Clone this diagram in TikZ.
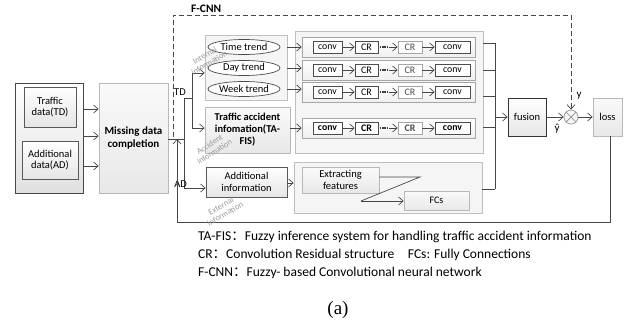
\documentclass[tikz,border=0pt]{standalone}
\usepackage{fontspec}
\setmainfont{Carlito}
\newfontfamily\cjk{Noto Sans CJK SC}
\newfontfamily\timesf{Liberation Serif}
\usetikzlibrary{arrows.meta,shapes.geometric,calc}
\begin{document}
\begin{tikzpicture}[x=1pt,y=-1pt,
  font=\fontsize{10.5}{11.5}\selectfont,
  >={Straight Barb[length=4.5pt,width=8pt]},
  conn/.style={draw=black!72, line width=0.7pt},
  arr/.style={conn,->},
  box/.style={draw=black!65, line width=0.7pt, top color=white, bottom color=black!10, align=center, inner sep=1pt},
  outerbox/.style={draw=black!72, line width=1pt, top color=white, bottom color=black!12},
  softbox/.style={draw=black!28, line width=0.7pt, top color=black!2, bottom color=black!9, align=center, inner sep=1pt},
  groupbox/.style={draw=black!25, line width=0.7pt, fill=black!4},
  rowbox/.style={draw=black!35, line width=0.6pt, top color=white, bottom color=black!6},
  cbox/.style={draw=black!70, line width=0.7pt, fill=white, inner sep=0pt},
  lcbox/.style={draw=black!35, line width=0.7pt, fill=white, inner sep=0pt, text=black!70},
  trend/.style={ellipse, draw=black!70, line width=0.7pt, fill=white, inner sep=0pt, minimum width=72pt, minimum height=15pt},
  wm/.style={text=black!40, font=\fontsize{8.3}{8.8}\selectfont, align=center}
]
\useasboundingbox (0,0) rectangle (627,324);

% left input block
\node[outerbox, minimum width=68pt, minimum height=110pt] (outer) at (49,138) {};
\node[box, minimum width=52pt, minimum height=40pt] (td) at (50,107) {Traffic\\data(TD)};
\node[box, minimum width=56pt, minimum height=38pt] (ad) at (50,160) {Additional\\data(AD)};

% missing data completion
\node[softbox, minimum width=69pt, minimum height=110pt, font=\fontsize{11}{13}\selectfont\bfseries] (miss) at (133.5,138) {Missing data\\completion};
\foreach \yy in {109,136,166} \draw[arr] (outer.east |- 0,\yy) -- (miss.west |- 0,\yy);

% dashed F-CNN frame
\coordinate (dA) at (173,137);
\coordinate (dB) at (173,15);
\coordinate (dC) at (571,15);
\node[font=\fontsize{11.5}{12}\selectfont\bfseries, anchor=west, inner sep=0pt] (fcnn) at (191,9) {F-CNN};

% internal information group
\node[groupbox, minimum width=82pt, minimum height=65pt] (tg) at (246,67.5) {};
\node[trend] (e1) at (244,47) {Time trend};
\node[trend] (e2) at (244,68) {Day trend};
\node[trend] (e3) at (244,89) {Week trend};

\node[softbox, minimum width=85pt, minimum height=46pt, font=\fontsize{10.5}{12}\selectfont\bfseries] (ta) at (247.5,130) {Traffic accident\\infomation(TA-\\FIS)};
\node[box, minimum width=81pt, minimum height=30pt, font=\fontsize{10.5}{12}\selectfont] (ai) at (246.5,182) {Additional\\information};

% conv group
\node[groupbox, minimum width=188pt, minimum height=122pt] (big) at (389,92) {};
\foreach \i/\y/\f in {1/47/\mdseries,2/70/\mdseries,3/92/\mdseries,4/128/\bfseries}{
  \node[rowbox, minimum width=173pt, minimum height=20pt] (row\i) at (388.5,\y) {};
  \node[cbox, minimum width=29pt, minimum height=12pt, font=\fontsize{9.8}{10}\selectfont\f] (ca\i) at (327.5,\y) {conv};
  \node[cbox, minimum width=23pt, minimum height=12pt, font=\fontsize{10}{10}\selectfont\f] (ra\i) at (366.5,\y) {CR};
  \node[lcbox, minimum width=24pt, minimum height=12pt, font=\fontsize{10}{10}\selectfont\f] (rb\i) at (410,\y) {CR};
  \node[cbox, minimum width=35pt, minimum height=12pt, font=\fontsize{9.8}{10}\selectfont\f] (cb\i) at (452.5,\y) {conv};
  \draw[arr] (ca\i) -- (ra\i);
  \draw[black!75, line width=1.4pt, dash pattern=on 1.4pt off 0.9pt] ($(ra\i.east)+(1.5,0)$) -- ++(8.5,0);
  \draw[arr] ($(ra\i.east)+(10.5,0)$) -- (rb\i);
  \draw[arr] (rb\i) -- (cb\i);
}

% external group
\node[groupbox, minimum width=188pt, minimum height=51pt] (bg) at (388,187.5) {};
\node[softbox, minimum width=77pt, minimum height=26pt, font=\fontsize{10.5}{11.5}\selectfont\mdseries] (ex) at (340.5,180) {Extracting\\features};
\node[softbox, minimum width=65pt, minimum height=19pt, font=\fontsize{10}{11}\selectfont\mdseries] (fc) at (436.5,200.5) {FCs};
\coordinate (z1) at (420,177);
\coordinate (z2) at (361,201);
\draw[conn] (ex.east |- z1) -- (z1) -- (z2);
\draw[arr] (z2) -- (fc.west |- z2);

% fusion, comparator, loss
\node[box, draw=black!80, minimum width=38pt, minimum height=38pt] (fus) at (527,117) {fusion};
\node[circle, draw=black!40, line width=0.7pt, fill=black!4, minimum size=14pt, inner sep=0pt] (cmp) at (571,117) {};
\draw[black!45, line width=0.7pt] (cmp.north west) -- (cmp.south east) (cmp.north east) -- (cmp.south west);
\node[softbox, minimum width=29pt, minimum height=38pt] (loss) at (607.5,117) {loss};
\node[inner sep=0pt, font=\fontsize{11}{12}\selectfont] (ylab) at (579,96) {y};
\node[inner sep=0pt, font=\fontsize{11}{12}\selectfont] (yhat) at (557,129) {ŷ};

% dashed frame
\draw[conn, dash pattern=on 5pt off 3pt] (dA) -- (dB) -- (dC);
\draw[arr, dash pattern=on 5pt off 3pt] (dC) -- (cmp.north);

% splitting lines
\coordinate (j0) at (184,139);
\coordinate (jT) at (184,98);
\coordinate (jT2) at (192,98);
\coordinate (jU) at (192,73);
\coordinate (jD) at (192,128);
\coordinate (jA) at (184,188);
\draw[conn] (miss.east |- j0) -- (j0);
\draw[conn] (jT) -- (jA);
\draw[conn] (jT) -- (jT2);
\draw[conn] (jU) -- (jD);
\draw[arr] (jU) -- (tg.west |- jU);
\draw[arr] (jD) -- (ta.west |- jD);
\draw[arr] (jA) -- (ai.west |- jA);
\node[anchor=east, inner sep=0pt] (tdl) at (186,92) {TD};
\node[anchor=east, inner sep=0pt] (adl) at (187,184) {AD};

% trend / TA arrows into rows
\draw[arr] (tg.east |- e1) -- (row1.west |- e1);
\draw[arr] (tg.east |- e2) -- (row2.west |- e2);
\draw[arr] (tg.east |- e3) -- (row3.west |- e3);
\draw[arr] (ta.east |- row4) -- (row4.west);
\draw[arr] (ai.east |- 0,183) -- (bg.west |- 0,183);

% bus to fusion
\coordinate (b1) at (495,43);
\coordinate (b2) at (495,70);
\coordinate (b3) at (495,96);
\coordinate (b4) at (495,127);
\coordinate (b5) at (495,189);
\draw[conn] (big.east |- b1) -- (b1);
\draw[conn] (big.east |- b2) -- (b2);
\draw[conn] (big.east |- b3) -- (b3);
\draw[conn] (big.east |- b4) -- (b4);
\draw[conn] (bg.east |- b5) -- (b5);
\draw[conn] (b1) -- (b5);
\draw[arr] (b1 |- fus) -- (fus.west);
\draw[arr] (fus.east) -- (cmp.west);
\draw[arr] (cmp.east) -- (loss.west);

% feedback
\coordinate (f1) at (610,222);
\coordinate (f2) at (177,222);
\coordinate (f3) at (177,139);
\draw[conn] (loss.south -| f1) -- (f1) -- (f2);
\draw[arr] (f2) -- (f3);

% watermarks
\node[wm, rotate=30] (w1) at (207,59) {Internal\\information};
\node[wm, rotate=33] (w2) at (212,148) {Accident\\information};
\node[wm, rotate=30] (w3) at (223,210) {External\\information};

% legend
\node[anchor=west, inner sep=0pt, font=\fontsize{13.5}{15}\selectfont] (l1) at (198,237) {TA-FIS{\cjk ：}Fuzzy inference system for handling traffic accident information};
\node[anchor=west, inner sep=0pt, font=\fontsize{13.5}{15}\selectfont] (l2) at (198,255) {CR{\cjk ：}Convolution Residual structure\quad FCs: Fully Connections};
\node[anchor=west, inner sep=0pt, font=\fontsize{13.5}{15}\selectfont] (l3) at (198,273) {F-CNN{\cjk ：}Fuzzy- based Convolutional neural network};
\node[font=\timesf\fontsize{19}{22}\selectfont, inner sep=0pt] (cap) at (338,310) {(a)};
\end{tikzpicture}
\end{document}
